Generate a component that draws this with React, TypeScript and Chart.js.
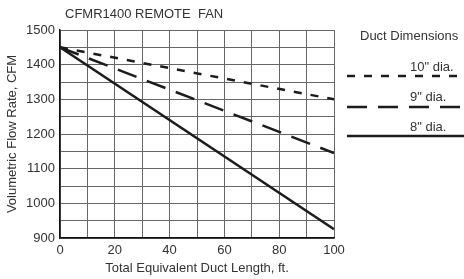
import React, { useEffect, useRef } from "react";
import { Chart, registerables } from "chart.js";

Chart.register(...registerables);

const TITLE = "CFMR1400 REMOTE  FAN";
const LEGEND_TITLE = "Duct Dimensions";
const X_LABEL = "Total Equivalent Duct Length, ft.";
const Y_LABEL = "Volumetric Flow Rate, CFM";

const seriesNames = ['10" dia.', '9" dia.', '8" dia.'];
const lengthsFt = [0, 100];
const flow10 = [1450, 1300];
const flow9 = [1450, 1145];
const flow8 = [1450, 925];
const dashes: number[][] = [[8, 9], [20, 11], []];

const FONT = "'Liberation Sans', Arial, sans-serif";
const TEXT = "#333";
const LINE = "#1c1c1c";

const overlayPlugin = {
  id: "overlay",
  afterDraw(chart: any) {
    const ctx = chart.ctx as CanvasRenderingContext2D;
    ctx.save();
    ctx.fillStyle = TEXT;
    ctx.font = `13px ${FONT}`;
    ctx.textBaseline = "middle";
    ctx.textAlign = "left";
    ctx.fillText(TITLE, 65, 14);
    ctx.fillText(LEGEND_TITLE, 360, 36);
    const rows = [
      { text: seriesNames[0], ty: 67, ly: 76, dash: dashes[0] },
      { text: seriesNames[1], ty: 97, ly: 107, dash: dashes[1] },
      { text: seriesNames[2], ty: 127, ly: 136, dash: dashes[2] },
    ];
    rows.forEach((r) => {
      ctx.fillStyle = TEXT;
      ctx.fillText(r.text, 410, r.ty);
      ctx.strokeStyle = LINE;
      ctx.lineWidth = 2.5;
      ctx.setLineDash(r.dash);
      ctx.beginPath();
      ctx.moveTo(347, r.ly);
      ctx.lineTo(466, r.ly);
      ctx.stroke();
    });
    ctx.restore();
  },
};

export default function App() {
  const ref = useRef<HTMLCanvasElement | null>(null);
  useEffect(() => {
    document.body.style.margin = "0";
    const series = [flow10, flow9, flow8];
    const chart = new Chart(ref.current as HTMLCanvasElement, {
      type: "line",
      data: {
        datasets: series.map((s, i) => ({
          label: seriesNames[i],
          data: lengthsFt.map((x, j) => ({ x, y: s[j] })),
          borderColor: LINE,
          borderWidth: 2.5,
          borderDash: dashes[i],
          pointRadius: 0,
          fill: false,
          tension: 0,
        })),
      },
      options: {
        animation: false,
        responsive: false,
        maintainAspectRatio: false,
        layout: { padding: { top: 30, right: 130, left: 0, bottom: 0 } },
        plugins: {
          legend: { display: false },
          title: { display: false },
          tooltip: { enabled: false },
        },
        scales: {
          x: {
            type: "linear",
            min: 0,
            max: 100,
            afterFit: (s: any) => {
              s.height = 41;
            },
            grid: { color: "#666", lineWidth: 1, drawTicks: false },
            border: { color: "#111", width: 1.5 },
            ticks: {
              stepSize: 10,
              padding: 5,
              color: TEXT,
              font: { family: FONT, size: 13 },
              maxRotation: 0,
              autoSkip: false,
              callback: (v: any) => (Number(v) % 20 === 0 ? String(v) : ""),
            },
            title: {
              display: true,
              text: X_LABEL,
              color: TEXT,
              font: { family: FONT, size: 13 },
              padding: { top: 0, bottom: 3 },
            },
          },
          y: {
            type: "linear",
            min: 900,
            max: 1500,
            afterFit: (s: any) => {
              s.width = 60;
            },
            grid: { color: "#666", lineWidth: 1, drawTicks: false },
            border: { color: "#111", width: 1.5 },
            ticks: {
              stepSize: 50,
              padding: 5,
              color: TEXT,
              font: { family: FONT, size: 13 },
              autoSkip: false,
              callback: (v: any) => (Number(v) % 100 === 0 ? String(v) : ""),
            },
            title: {
              display: true,
              text: Y_LABEL,
              color: TEXT,
              font: { family: FONT, size: 13 },
              padding: { top: 5, bottom: 0 },
            },
          },
        },
      },
      plugins: [overlayPlugin],
    });
    return () => chart.destroy();
  }, []);
  return (
    <div style={{ position: "relative", width: 464, height: 279, background: "#fff" }}>
      <canvas ref={ref} width={464} height={279} style={{ display: "block" }} />
    </div>
  );
}
